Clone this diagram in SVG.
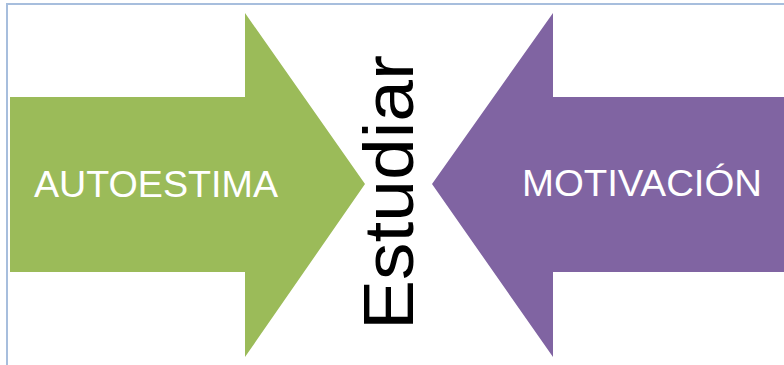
<svg xmlns="http://www.w3.org/2000/svg" width="784" height="365" viewBox="0 0 784 365">
  <style>
    .frame { stroke: #A7BEDD; stroke-width: 2; fill: none; }
    .label { font-family: "Liberation Sans", Arial, sans-serif; font-size: 36px; fill: #FFFFFF; }
    .center { font-family: "Liberation Sans", Arial, sans-serif; font-size: 71px; fill: #000000; }
  </style>
  <rect width="784" height="365" fill="#FFFFFF"/>
  <!-- frame edges -->
  <polyline class="frame" points="7,365 7,4 784,4"/>
  <!-- left arrow -->
  <g id="autoestima">
    <polygon points="10,97 245,97 245,13 365,184 245,357 245,272 10,272" fill="#9BBB59"/>
    <text class="label" x="34" y="197" textLength="244" lengthAdjust="spacingAndGlyphs">AUTOESTIMA</text>
  </g>
  <!-- right arrow -->
  <g id="motivacion">
    <polygon points="784,97 553,97 553,13 432,184 553,357 553,272 784,272" fill="#8064A2"/>
    <text class="label" x="522" y="196" textLength="240" lengthAdjust="spacingAndGlyphs">MOTIVACIÓN</text>
  </g>
  <!-- vertical centre word -->
  <g id="estudiar">
    <text class="center" transform="translate(413,330) rotate(-90)" x="0" y="0" textLength="275" lengthAdjust="spacingAndGlyphs">Estudiar</text>
  </g>
</svg>
